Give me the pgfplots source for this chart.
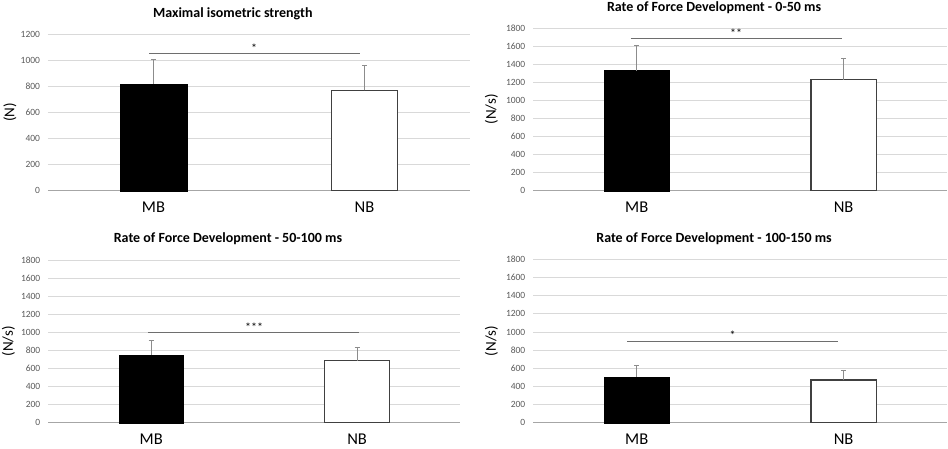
\documentclass[border=0pt]{standalone}
\usepackage{pgfplots}
\pgfplotsset{compat=1.18}
\usepackage{fontspec}
\setmainfont{Carlito}
\definecolor{gridc}{HTML}{D9D9D9}
\definecolor{tickc}{HTML}{595959}
\definecolor{basec}{HTML}{A6A6A6}
\definecolor{errc}{HTML}{8C8C8C}
\definecolor{sigc}{HTML}{6E6E6E}
\definecolor{nbc}{HTML}{404040}
\tikzset{ttl/.style={font=\bfseries\fontsize{14}{16}\selectfont, anchor=center},
 star/.style={font=\fontsize{12}{13}\selectfont, anchor=base}}
\pgfplotsset{
 panel/.style={
  scale only axis,
  anchor=south west,
  axis lines*=left,
  x axis line style={-, draw=basec, line width=1.3pt},
  y axis line style={draw=none},
  ymajorgrids, grid style={draw=gridc, line width=0.8pt},
  xmin=-0.5, xmax=1.5, ymin=0,
  xtick={0,1}, xticklabels={MB,NB},
  major tick length=0pt,
  xticklabel style={font=\fontsize{16.5}{18}\selectfont, yshift=-7.5pt},
  yticklabel style={font=\fontsize{9.5}{11}\selectfont, text=tickc, xshift=-4.5pt},
  /pgf/number format/assume math mode=true,
  /pgf/number format/1000 sep={},
  ylabel style={font=\fontsize{15}{17}\selectfont, anchor=center},
  clip=false,
 },
 mb/.style={ybar, bar shift=0pt, bar width=0.315, fill=black, draw=black,
   error bars/.cd, y dir=plus, y explicit,
   error bar style={draw=errc, line width=0.8pt},
   error mark options={rotate=90, draw=errc, line width=0.8pt, mark size=2.5pt}},
 nb/.style={ybar, bar shift=0pt, bar width=0.315, fill=white, draw=nbc, line width=1.2pt,
   error bars/.cd, y dir=plus, y explicit,
   error bar style={draw=errc, line width=0.8pt},
   error mark options={rotate=90, draw=errc, line width=0.8pt, mark size=2.5pt}},
 sig/.style={draw=sigc, line width=0.9pt, no marks, forget plot},
}
\begin{document}
\begin{tikzpicture}
\useasboundingbox (0,0) rectangle (948pt,448pt);
% Panel 1
\begin{axis}[panel, at={(48pt,257.3pt)}, width=422pt, height=156.4pt,
  ymax=1200, ytick={0,200,...,1200},
  ylabel={(N)}, ylabel style={at={(axis description cs:-0.09,0.5)}}]
\addplot[mb] coordinates {(0,820) +- (0,185)};
\addplot[nb] coordinates {(1,770) +- (0,192)};
\addplot[sig] coordinates {(-0.02,1050) (0.98,1050)};
\node[star, yshift=1pt] at (axis cs:0.477,1050) {*};
\node[ttl] at (axis description cs:0.438,1.13) {Maximal isometric strength};
\end{axis}
% Panel 2
\begin{axis}[panel, at={(533.3pt,257.3pt)}, width=413.7pt, height=162.7pt,
  ymax=1800, ytick={0,200,...,1800},
  ylabel={(N/s)}, ylabel style={at={(axis description cs:-0.1015,0.5)}}]
\addplot[mb] coordinates {(0,1328) +- (0,280)};
\addplot[nb] coordinates {(1,1230) +- (0,232)};
\addplot[sig] coordinates {(-0.03,1688) (0.99,1688)};
\node[star, yshift=0.5pt] at (axis cs:0.48,1688) {**};
\node[ttl] at (axis description cs:0.437,1.127) {Rate of Force Development - 0-50 ms};
\end{axis}
% Panel 3
\begin{axis}[panel, at={(48.3pt,25.3pt)}, width=411.7pt, height=162.7pt,
  ymax=1800, ytick={0,200,...,1800},
  ylabel={(N/s)}, ylabel style={at={(axis description cs:-0.097,0.5)}}]
\addplot[mb] coordinates {(0,752) +- (0,157)};
\addplot[nb] coordinates {(1,686) +- (0,144)};
\addplot[sig] coordinates {(-0.015,996) (1.01,996)};
\node[star, yshift=1pt] at (axis cs:0.5,996) {***};
\node[ttl] at (axis description cs:0.4365,1.129) {Rate of Force Development - 50-100 ms};
\end{axis}
% Panel 4
\begin{axis}[panel, at={(533.3pt,25.3pt)}, width=413.7pt, height=163.3pt,
  ymax=1800, ytick={0,200,...,1800},
  ylabel={(N/s)}, ylabel style={at={(axis description cs:-0.1015,0.5)}}]
\addplot[mb] coordinates {(0,505) +- (0,122)};
\addplot[nb] coordinates {(1,470) +- (0,112)};
\addplot[sig] coordinates {(-0.045,895) (0.975,895)};
\node[star, yshift=2pt] at (axis cs:0.464,895) {*};
\node[ttl] at (axis description cs:0.437,1.124) {Rate of Force Development - 100-150 ms};
\end{axis}
\end{tikzpicture}
\end{document}
